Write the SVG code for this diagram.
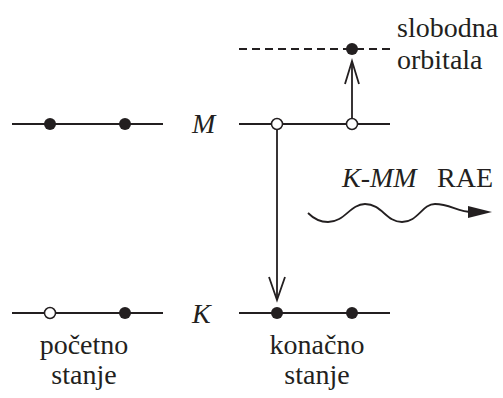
<svg xmlns="http://www.w3.org/2000/svg" width="503" height="398" viewBox="0 0 503 398">
<style>
.lvl{stroke:#231f20;stroke-width:2;fill:none}
.dash{stroke:#231f20;stroke-width:2;fill:none;stroke-dasharray:8 5}
.full{fill:#231f20}
.empty{fill:#fff;stroke:#231f20;stroke-width:1.5}
.conn{stroke:#231f20;stroke-width:1.8;fill:none}
text{font-family:'Liberation Serif','Times New Roman',serif;font-size:28px;fill:#231f20}
.i{font-style:italic}
</style>
<rect width="503" height="398" fill="#fff"/>
<g id="initial-M">
<line class="lvl" x1="12" y1="124" x2="163" y2="124"/>
<circle class="full" cx="50" cy="124" r="6"/>
<circle class="full" cx="125" cy="124" r="6"/>
</g>
<g id="initial-K">
<line class="lvl" x1="12" y1="313" x2="163" y2="313"/>
<circle class="empty" cx="50" cy="313" r="5.5"/>
<circle class="full" cx="125" cy="313" r="6"/>
</g>
<g id="label-M"><text class="i" x="192" y="133">M</text></g>
<g id="label-K"><text class="i" x="192" y="323">K</text></g>
<g id="free-orbital">
<line class="dash" x1="239" y1="49" x2="390" y2="49"/>
<circle class="full" cx="352" cy="49" r="6"/>
<text x="397" y="37">slobodna</text>
<text x="397" y="69">orbitala</text>
</g>
<g id="connectors">
<line class="conn" x1="277" y1="130" x2="277" y2="300"/>
<polyline class="conn" points="269,277 277,300 285,277"/>
<line class="conn" x1="352" y1="118" x2="352" y2="61"/>
<polyline class="conn" points="345,84 352,61 359,84"/>
<path class="conn" d="M308,213 C314,219 321,222 328,222 C345,222 350,204 365,204 C382,204 386,222 402,222 C418,222 422,204 435,204 C450,204 458,212 472,212"/>
<polygon class="full" points="468,206 492,212 468,218"/>
</g>
<g id="final-M">
<line class="lvl" x1="239" y1="124" x2="390" y2="124"/>
<circle class="empty" cx="277" cy="124" r="5.5"/>
<circle class="empty" cx="352" cy="124" r="5.5"/>
</g>
<g id="final-K">
<line class="lvl" x1="239" y1="313" x2="390" y2="313"/>
<circle class="full" cx="277" cy="313" r="6"/>
<circle class="full" cx="352" cy="313" r="6"/>
</g>
<g id="rae-label">
<text class="i" x="342" y="187">K-MM</text>
<text x="437" y="187">RAE</text>
</g>
<g id="caption-initial">
<text x="84" y="354" text-anchor="middle">početno</text>
<text x="84" y="384" text-anchor="middle">stanje</text>
</g>
<g id="caption-final">
<text x="317" y="354" text-anchor="middle">konačno</text>
<text x="317" y="384" text-anchor="middle">stanje</text>
</g>
</svg>
